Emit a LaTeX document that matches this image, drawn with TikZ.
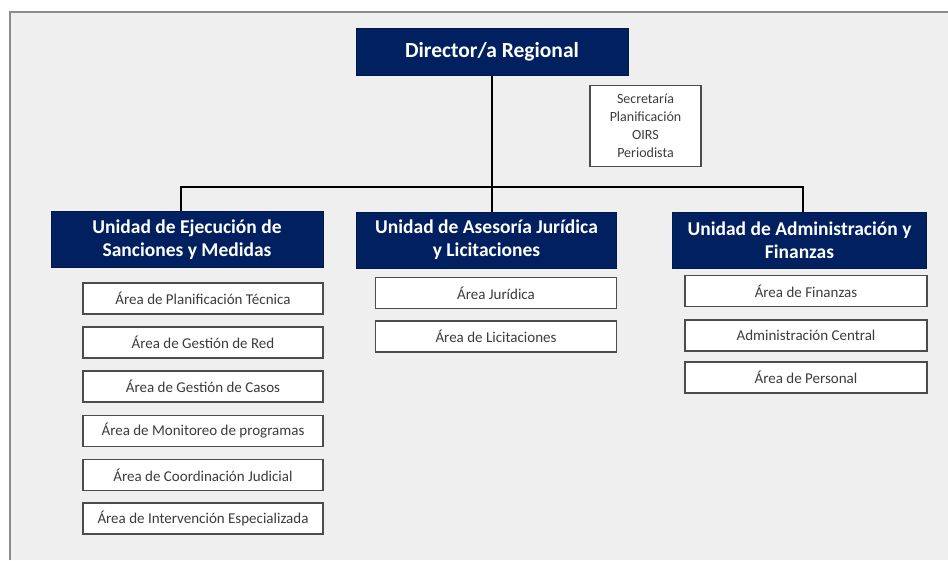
\documentclass[tikz,border=0pt]{standalone}
\usepackage{fontspec}
\setmainfont{Carlito}
\definecolor{navy}{RGB}{0,32,96}
\definecolor{bgray}{RGB}{239,239,239}
\definecolor{txtgray}{RGB}{60,60,60}
\begin{document}
\begin{tikzpicture}[x=1pt,y=-1pt,
  head/.style={draw=navy!80!black,line width=1pt,fill=navy,text=white,font=\bfseries\fontsize{19.5}{23}\selectfont,align=center,inner sep=0pt},
  sub/.style={draw=black!70,line width=1.3pt,fill=white,text=txtgray,font=\fontsize{15}{17}\selectfont,inner sep=0pt,minimum height=31,align=center},
  link/.style={draw=black,line width=2pt}]
\useasboundingbox (0,0) rectangle (948,560);
\fill[white] (0,0) rectangle (948,560);
\fill[bgray] (10,12) rectangle (948,560);
\draw[black!45,line width=2pt] (10,560) -- (10,12) -- (948,12);
% top
\node[head,minimum width=272,minimum height=47,font=\bfseries\fontsize{21.5}{24}\selectfont] (dir) at (492,51.5) {Director/a Regional};
\node[sub,minimum width=111,minimum height=81,font=\fontsize{14}{18}\selectfont] (sec) at (645.5,126) {Secretaría\\Planificación\\OIRS\\Periodista};
% units
\node[head,minimum width=272,minimum height=56] (uL) at (187,239.5) {Unidad de Ejecución de\\Sanciones y Medidas};
\node[head,minimum width=260,minimum height=56] (uM) at (486.5,240) {Unidad de Asesoría Jurídica\\y Licitaciones};
\node[head,minimum width=254,minimum height=56] (uR) at (799.5,240) {Unidad de Administración y\\Finanzas};
% connectors
\coordinate (busL) at (181,187);
\coordinate (busR) at (803,187);
\coordinate (busM) at (dir.south |- busL);
\draw[link] (dir.south) -- (busM);
\draw[link] (busL |- uL.north) -- (busL) -- (busR) -- (busR |- uR.north);
\draw[link] (busM) -- (busM |- uM.north);
% left subs
\node[sub,minimum width=240] (l1) at (203,298.5) {Área de Planificación Técnica};
\node[sub,minimum width=240] (l2) at (203,342.5) {Área de Gestión de Red};
\node[sub,minimum width=240] (l3) at (203,386.5) {Área de Gestión de Casos};
\node[sub,minimum width=240] (l4) at (203,431) {Área de Monitoreo de programas};
\node[sub,minimum width=240] (l5) at (203,475) {Área de Coordinación Judicial};
\node[sub,minimum width=240] (l6) at (203,518.5) {Área de Intervención Especializada};
% middle subs
\node[sub,minimum width=241] (m1) at (496,293) {Área Jurídica};
\node[sub,minimum width=241] (m2) at (496,336.5) {Área de Licitaciones};
% right subs
\node[sub,minimum width=242] (r1) at (806,291) {Área de Finanzas};
\node[sub,minimum width=242] (r2) at (806,335.5) {Administración Central};
\node[sub,minimum width=242] (r3) at (806,377.5) {Área de Personal};
\end{tikzpicture}
\end{document}
